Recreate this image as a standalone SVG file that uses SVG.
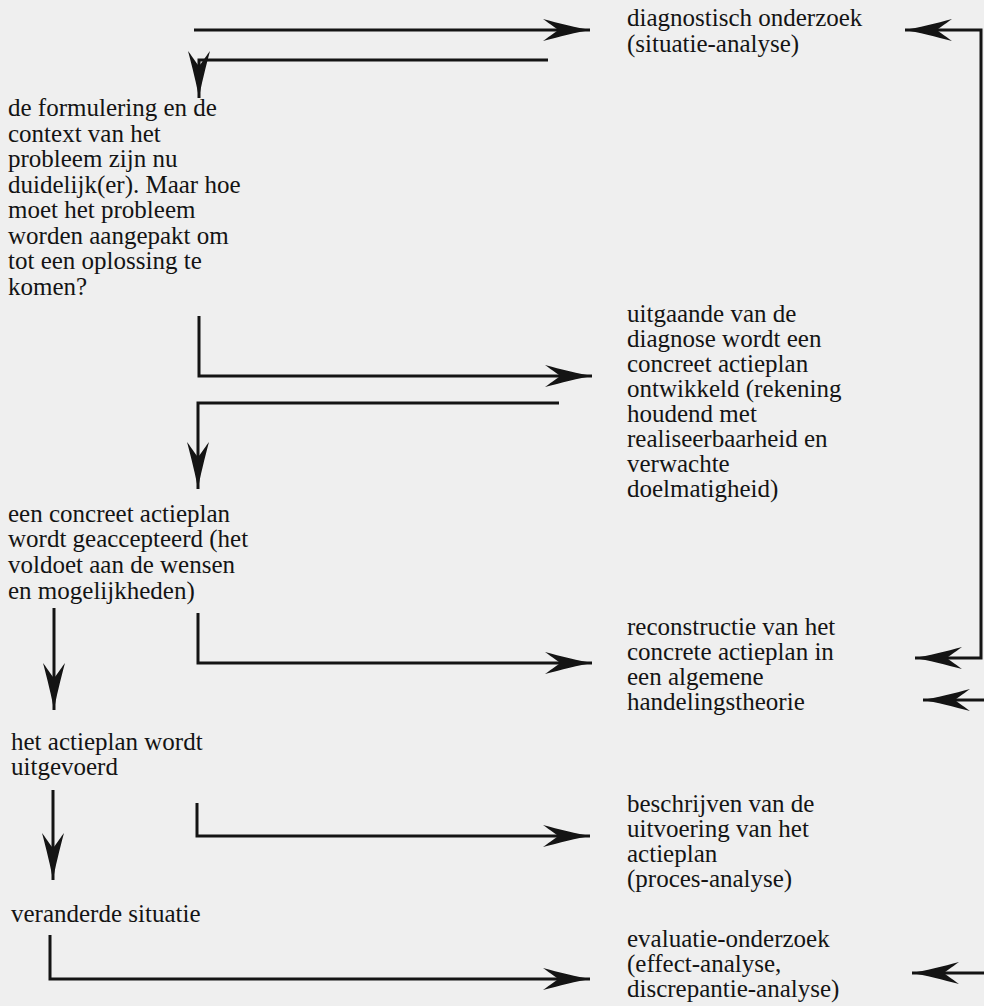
<svg xmlns="http://www.w3.org/2000/svg" width="984" height="1006" viewBox="0 0 984 1006">
<style>
text{font-family:"Liberation Serif","Times New Roman",serif;font-size:25px;fill:#141414}
.c{fill:none;stroke:#141414;stroke-width:3;marker-end:url(#ah)}
</style>
<defs>
<marker id="ah" markerUnits="userSpaceOnUse" markerWidth="50" markerHeight="26" viewBox="0 0 50 26" refX="48" refY="13" orient="auto">
<path d="M48,13 C36,11 16,6 1,2 C9,8 14,11 16,13 C14,15 9,18 1,24 C16,20 36,15 48,13 Z" fill="#141414"/>
</marker>
<marker id="as" markerUnits="userSpaceOnUse" markerWidth="50" markerHeight="26" viewBox="0 0 50 26" refX="48" refY="13" orient="auto-start-reverse">
<path d="M48,13 C36,11 16,6 1,2 C9,8 14,11 16,13 C14,15 9,18 1,24 C16,20 36,15 48,13 Z" fill="#141414"/>
</marker>
</defs>
<rect width="984" height="1006" fill="#efefef"/>
<g id="connectors">
<path class="c" d="M194,30 H590"/>
<path class="c" d="M548,60 H199 V98"/>
<path class="c" d="M199,316 V376 H592"/>
<path class="c" d="M559,403 H198 V489"/>
<path class="c" d="M198,613 V663 H592"/>
<path class="c" d="M54,608 V710"/>
<path class="c" d="M53,790 V880"/>
<path class="c" d="M197,803 V836 H590"/>
<path class="c" d="M50,935 V979 H590"/>
<path class="c" style="marker-start:url(#as)" d="M905,30 H981 V658 H915"/>
<path class="c" d="M984,700 H923"/>
<path class="c" d="M984,973 H912"/>
</g>
<g id="n-diagnostisch">
<text x="627" y="26">diagnostisch onderzoek</text>
<text x="627" y="52">(situatie-analyse)</text>
</g>
<g id="n-formulering">
<text x="8" y="116">de formulering en de</text>
<text x="8" y="141.5">context van het</text>
<text x="8" y="167">probleem zijn nu</text>
<text x="8" y="192.5">duidelijk(er). Maar hoe</text>
<text x="8" y="218">moet het probleem</text>
<text x="8" y="243.5">worden aangepakt om</text>
<text x="8" y="269">tot een oplossing te</text>
<text x="8" y="294.5">komen?</text>
</g>
<g id="n-uitgaande">
<text x="627" y="322">uitgaande van de</text>
<text x="627" y="347">diagnose wordt een</text>
<text x="627" y="372">concreet actieplan</text>
<text x="627" y="397">ontwikkeld (rekening</text>
<text x="627" y="422">houdend met</text>
<text x="627" y="447">realiseerbaarheid en</text>
<text x="627" y="472">verwachte</text>
<text x="627" y="497">doelmatigheid)</text>
</g>
<g id="n-geaccepteerd">
<text x="8" y="522">een concreet actieplan</text>
<text x="8" y="547">wordt geaccepteerd (het</text>
<text x="8" y="573">voldoet aan de wensen</text>
<text x="8" y="599">en mogelijkheden)</text>
</g>
<g id="n-reconstructie">
<text x="627" y="635">reconstructie van het</text>
<text x="627" y="660">concrete actieplan in</text>
<text x="627" y="685">een algemene</text>
<text x="627" y="710">handelingstheorie</text>
</g>
<g id="n-uitgevoerd">
<text x="11" y="750">het actieplan wordt</text>
<text x="11" y="775">uitgevoerd</text>
</g>
<g id="n-beschrijven">
<text x="627" y="812">beschrijven van de</text>
<text x="627" y="837">uitvoering van het</text>
<text x="627" y="862">actieplan</text>
<text x="627" y="887">(proces-analyse)</text>
</g>
<g id="n-veranderde">
<text x="11" y="922">veranderde situatie</text>
</g>
<g id="n-evaluatie">
<text x="627" y="947">evaluatie-onderzoek</text>
<text x="627" y="972">(effect-analyse,</text>
<text x="627" y="997">discrepantie-analyse)</text>
</g>
</svg>
